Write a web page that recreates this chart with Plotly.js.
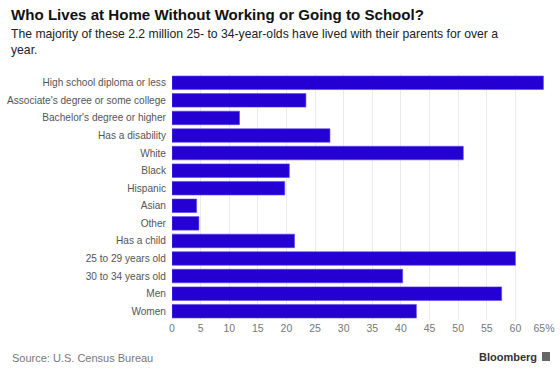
<!DOCTYPE html>
<html>
<head>
<meta charset="utf-8">
<script src="https://cdn.plot.ly/plotly-3.0.1.min.js"></script>
<style>html,body{margin:0;padding:0;background:#fff;}#chart{width:560px;height:371px;}</style>
</head>
<body>
<div id="chart"></div>
<script>
const categories = [
  "High school diploma or less",
  "Associate's degree or some college",
  "Bachelor's degree or higher",
  "Has a disability",
  "White",
  "Black",
  "Hispanic",
  "Asian",
  "Other",
  "Has a child",
  "25 to 29 years old",
  "30 to 34 years old",
  "Men",
  "Women"
];
const shares = [64.9, 23.4, 11.8, 27.6, 50.9, 20.5, 19.7, 4.3, 4.7, 21.4, 60.0, 40.3, 57.6, 42.7];
const tickValues = [0, 5, 10, 15, 20, 25, 30, 35, 40, 45, 50, 55, 60, 65];
const tickLabels = ["0", "5", "10", "15", "20", "25", "30", "35", "40", "45", "50", "55", "60", "65%"];

const W = 560, H = 371;
const M = {l: 172, r: 16, t: 74, b: 51};
const pw = W - M.l - M.r, ph = H - M.t - M.b;
const px = x => (x - M.l) / pw;
const py = y => (H - M.b - y) / ph;

const font = "Liberation Sans, Arial, Helvetica, sans-serif";

const trace = {
  type: "bar",
  orientation: "h",
  y: categories,
  x: shares,
  width: 0.77,
  marker: {color: "#2400d2", line: {color: "#5a46ea", width: 0.6}},
  hoverinfo: "x+y"
};

const layout = {
  width: W, height: H,
  margin: M,
  paper_bgcolor: "#ffffff",
  plot_bgcolor: "#ffffff",
  font: {family: font, color: "#555"},
  showlegend: false,
  xaxis: {
    range: [0, 65],
    tickvals: tickValues,
    ticktext: tickLabels,
    showgrid: true,
    gridcolor: "#ebebeb",
    gridwidth: 1,
    zeroline: false,
    showline: false,
    ticks: "",
    tickfont: {size: 10.5, color: "#777", family: font},
    fixedrange: true
  },
  yaxis: {
    autorange: "reversed",
    showgrid: false,
    zeroline: false,
    showline: false,
    ticks: "outside",
    ticklen: 3,
    tickcolor: "rgba(0,0,0,0)",
    tickfont: {size: 10.1, color: "#555", family: font},
    fixedrange: true
  },
  annotations: [
    {xref: "paper", yref: "paper", x: px(9), y: py(4), xanchor: "left", yanchor: "top",
     showarrow: false, align: "left",
     text: "<b>Who Lives at Home Without Working or Going to School?</b>",
     font: {size: 15.1, color: "#111", family: font}},
    {xref: "paper", yref: "paper", x: px(9), y: py(25), xanchor: "left", yanchor: "top",
     showarrow: false, align: "left",
     text: "The majority of these 2.2 million 25- to 34-year-olds have lived with their parents for over a<br>year.",
     font: {size: 12.2, color: "#222", family: font}},
    {xref: "paper", yref: "paper", x: px(10), y: py(350), xanchor: "left", yanchor: "top",
     showarrow: false, align: "left",
     text: "Source: U.S. Census Bureau",
     font: {size: 11, color: "#777", family: font}},
    {xref: "paper", yref: "paper", x: px(539), y: py(349), xanchor: "right", yanchor: "top",
     showarrow: false, align: "right",
     text: "<b>Bloomberg</b>",
     font: {size: 11, color: "#333", family: font}}
  ],
  shapes: [
    {type: "rect", xref: "paper", yref: "paper", x0: px(542), x1: px(550), y0: py(352), y1: py(361),
     fillcolor: "#666", line: {width: 0}}
  ]
};

Plotly.newPlot("chart", [trace], layout, {displayModeBar: false, staticPlot: true});
</script>
</body>
</html>
